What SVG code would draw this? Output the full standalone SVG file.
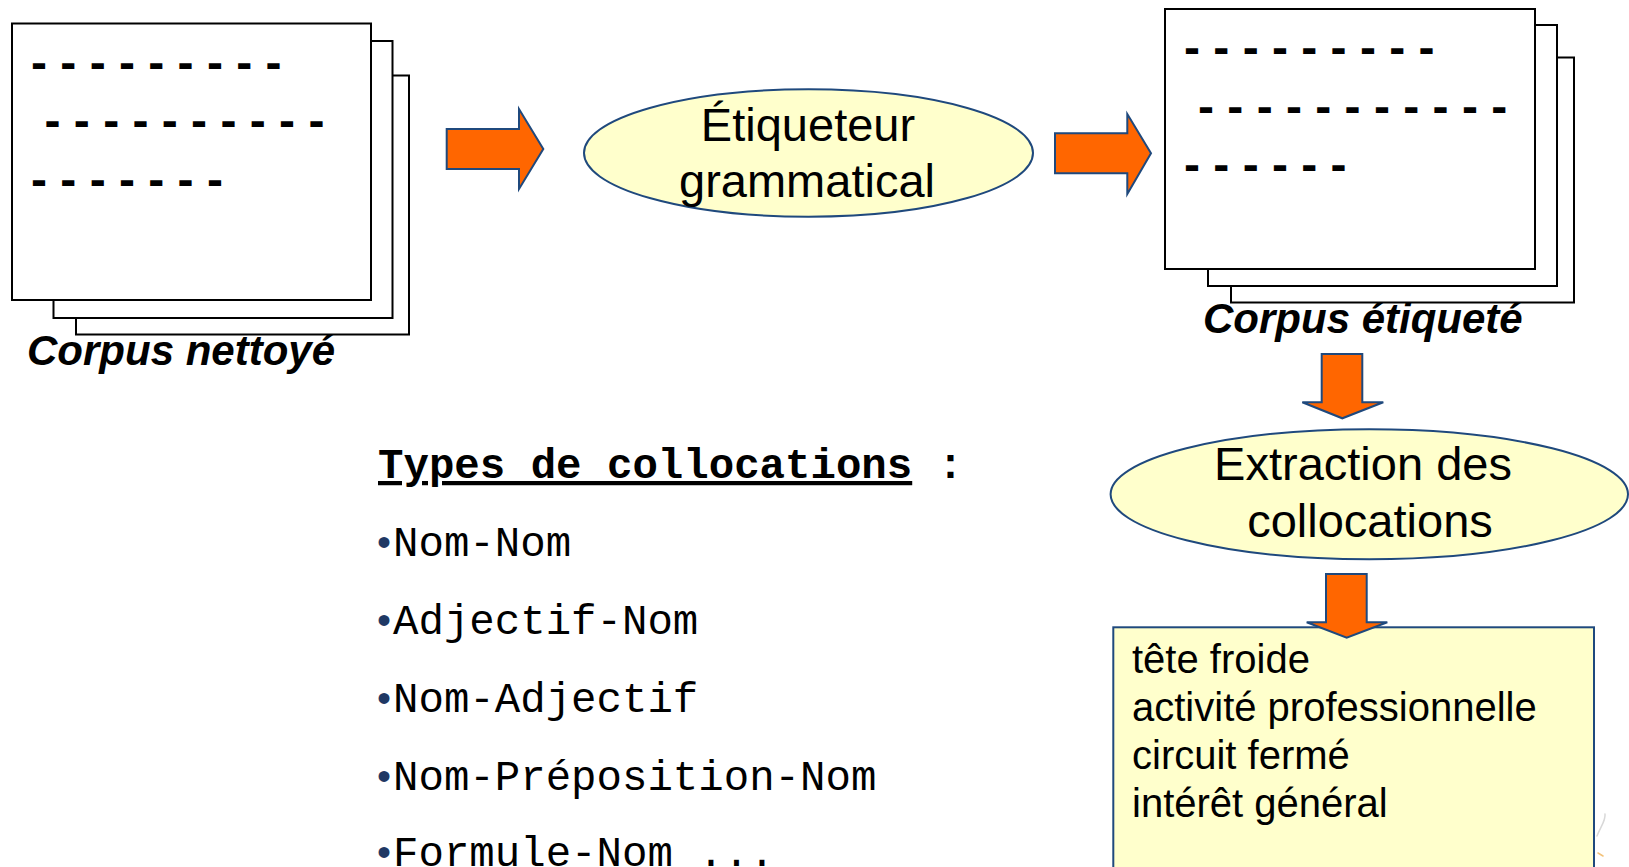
<svg xmlns="http://www.w3.org/2000/svg" width="1629" height="867" viewBox="0 0 1629 867">
  <style>
    .sheet { fill: #ffffff; stroke: #000000; stroke-width: 2; }
    .dashes { font-family: "Liberation Sans", Arial, sans-serif; font-weight: bold; font-size: 48px; fill: #000000; white-space: pre; }
    .label { font-family: "Liberation Sans", Arial, sans-serif; font-weight: bold; font-style: italic; font-size: 42px; fill: #000000; }
    .bubble { fill: #FFFFCC; stroke: #1F497D; stroke-width: 2; }
    .bubble-text { font-family: "Liberation Sans", Arial, sans-serif; font-size: 47px; fill: #000000; text-anchor: middle; }
    .arrow { fill: #FF6600; stroke: #1F497D; stroke-width: 2; stroke-linejoin: miter; }
    .mono { font-family: "Liberation Mono", "Courier New", monospace; font-size: 42.4px; fill: #000000; white-space: pre; }
    .bullet { font-family: "Liberation Sans", Arial, sans-serif; font-size: 40px; fill: #1F3864; }
    .result { font-family: "Liberation Sans", Arial, sans-serif; font-size: 40px; fill: #000000; }
  </style>

  <rect x="0" y="0" width="1629" height="867" fill="#ffffff"/>

  <!-- cleaned corpus: stack of three sheets -->
  <g id="corpus-nettoye">
    <rect class="sheet" x="76" y="75.5" width="333" height="259"/>
    <rect class="sheet" x="53.5" y="41" width="339" height="277"/>
    <rect class="sheet" x="12" y="23.5" width="359" height="276.5"/>
    <text class="dashes" x="31" y="78.5">- - - - - - - - -</text>
    <text class="dashes" x="44.5" y="137">- - - - - - - - - -</text>
    <text class="dashes" x="31" y="196">- - - - - - -</text>
    <text class="label" x="27" y="365">Corpus nettoyé</text>
  </g>

  <!-- POS tagger -->
  <g id="etiqueteur">
    <ellipse class="bubble" cx="808.5" cy="153" rx="224.5" ry="63.7"/>
    <text class="bubble-text" x="808" y="140.7">Étiqueteur</text>
    <text class="bubble-text" x="807" y="196.7">grammatical</text>
  </g>

  <!-- tagged corpus: stack of three sheets -->
  <g id="corpus-etiquete">
    <rect class="sheet" x="1231" y="57.5" width="343" height="245"/>
    <rect class="sheet" x="1208" y="25" width="349" height="261"/>
    <rect class="sheet" x="1165" y="9" width="370" height="260"/>
    <text class="dashes" x="1184" y="63.5">- - - - - - - - -</text>
    <text class="dashes" x="1198" y="122.5">- - - - - - - - - - -</text>
    <text class="dashes" x="1184" y="181">- - - - - -</text>
    <text class="label" x="1203" y="333">Corpus étiqueté</text>
  </g>

  <!-- collocation extraction -->
  <g id="extraction">
    <ellipse class="bubble" cx="1369.3" cy="494.3" rx="258.7" ry="65"/>
    <text class="bubble-text" x="1363" y="480">Extraction des</text>
    <text class="bubble-text" x="1370" y="536.7">collocations</text>
  </g>

  <!-- extracted collocations -->
  <g id="resultats">
    <rect class="bubble" x="1113.3" y="627.3" width="480.7" height="260"/>
    <text class="result" x="1132" y="672.5">tête froide</text>
    <text class="result" x="1132" y="720.5">activité professionnelle</text>
    <text class="result" x="1132" y="768.5">circuit fermé</text>
    <text class="result" x="1132" y="816.5">intérêt général</text>
  </g>

  <!-- list of collocation patterns -->
  <g id="types-collocations">
    <text class="mono" x="378" y="478" font-weight="bold"><tspan text-decoration="underline">Types de collocations</tspan> :</text>
    <text class="bullet" x="377" y="556">•</text>
    <text class="mono" x="393" y="556">Nom-Nom</text>
    <text class="bullet" x="377" y="634">•</text>
    <text class="mono" x="393" y="634">Adjectif-Nom</text>
    <text class="bullet" x="377" y="712">•</text>
    <text class="mono" x="393" y="712">Nom-Adjectif</text>
    <text class="bullet" x="377" y="790">•</text>
    <text class="mono" x="393" y="790">Nom-Préposition-Nom</text>
    <text class="bullet" x="377" y="866">•</text>
    <text class="mono" x="393" y="866">Formule-Nom ...</text>
  </g>

  <!-- block arrows between the stages -->
  <g id="connecteurs">
    <polygon class="arrow" points="446.7,129 519,129 519,109 543.3,149 519,189 519,169 446.7,169"/>
    <polygon class="arrow" points="1055,133.3 1127.3,133.3 1127.3,114 1151,153.3 1127.3,194 1127.3,173.3 1055,173.3"/>
    <polygon class="arrow" points="1321.7,354 1362.3,354 1362.3,402.3 1383.3,402.3 1342.3,418.3 1302.3,402.3 1321.7,402.3"/>
    <polygon class="arrow" points="1326,574 1366.7,574 1366.7,622.3 1387.3,622.3 1346.7,637.7 1306.7,622.3 1326,622.3"/>
  </g>

  <!-- faint decoration in the lower right corner -->
  <g id="decor" fill="none" stroke-linecap="round">
    <path d="M1597,836 C1601,826 1606,820 1605,814" stroke="#d8d8d8" stroke-width="1.5"/>
    <path d="M1598,853 L1603,856" stroke="#f3c27a" stroke-width="1.5"/>
  </g>
</svg>
